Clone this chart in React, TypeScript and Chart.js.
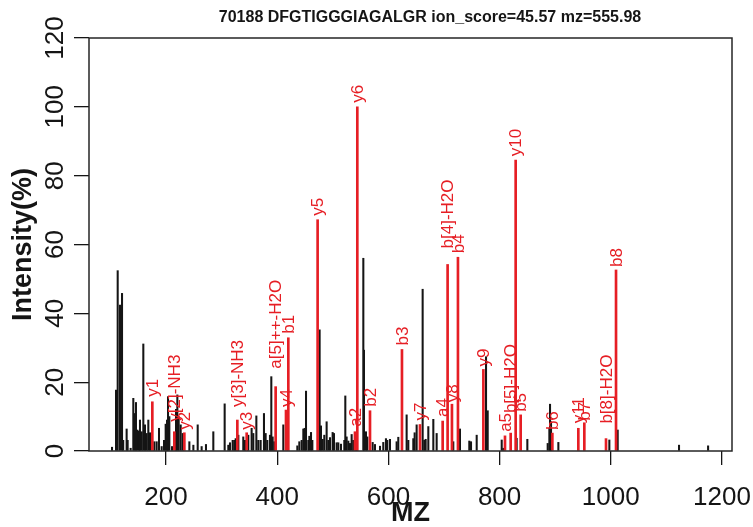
import React, { useEffect, useRef } from 'react';
import { Chart, registerables } from 'chart.js';

Chart.register(...registerables);

const TITLE = '70188 DFGTIGGGIAGALGR ion_score=45.57 mz=555.98';
const X_TICKS = [200, 400, 600, 800, 1000, 1200];
const Y_TICKS = [0, 20, 40, 60, 80, 100, 120];

// unannotated peaks (black)
const blackMz = [
  102.9, 110.1, 113.1, 117.3, 120.9, 123, 129.2, 131, 136.4, 141.2, 143.6, 146, 148.4, 151.4, 153.2,
  156.2, 159.2, 162.2, 165.2, 168.2, 171.2, 179, 183.2, 187.4, 192.2, 196.4, 199.4, 201.8, 203.6, 206,
  210.8, 218, 220.4, 222.8, 226.4, 230, 242, 249.2, 257, 264.1, 271.9, 285.1, 305.5, 312.1, 315.1,
  319.9, 322.9, 325.3, 330.1, 339, 342, 348, 354, 357, 362.5, 366, 370.2, 376.2, 379.2, 382.2, 387,
  389.4, 391.8, 394.8, 411, 436.2, 439.8, 444, 447, 449.4, 451.8, 456, 457.8, 460.8, 463.2, 476.3,
  478.7, 481.7, 484.7, 488.9, 491.9, 494.9, 499.7, 502.1, 506.9, 509.9, 514.7, 520.7, 522.5, 524.9,
  527.9, 530.9, 533.9, 536.9, 542.3, 554.9, 556.1, 559.7, 562.1, 571.7, 575.9, 584.9, 590.8, 595.6,
  598, 602.8, 614.8, 617.8, 632.8, 635.8, 644.8, 647.2, 650.8, 661.6, 664.6, 667, 671.8, 680.8,
  686.8, 716.7, 728.7, 745.5, 748.6, 758.8, 775.6, 778.6, 803.8, 806.8, 830.7, 849.9, 886.5, 889.5,
  890.7, 892.5, 905.7, 997.4, 1012.4, 1122.7, 1175,
];
const blackInt = [
  1.1, 17.7, 52.4, 42.4, 45.8, 3.1, 6.4, 3.1, 0.8, 15.3, 10.9, 14.1, 6.1, 5.8, 9.0,
  5.6, 31.1, 7.6, 5.1, 9.0, 5.3, 2.7, 2.7, 6.6, 1.3, 3.1, 7.8, 9.0, 15.8, 10.0,
  1.3, 12.1, 16.3, 10.0, 7.6, 5.1, 2.7, 1.7, 7.6, 1.3, 1.9, 5.6, 13.7, 1.7, 2.4,
  3.1, 3.1, 3.6, 4.6, 4.1, 3.1, 4.6, 6.6, 5.1, 10.2, 3.1, 3.1, 10.9, 5.1, 3.1, 4.6,
  21.6, 4.1, 2.7, 7.6, 1.5, 2.7, 3.1, 6.4, 6.6, 17.4, 3.1, 4.3, 5.4, 3.1, 35.2,
  7.3, 3.4, 4.6, 8.5, 3.1, 3.9, 5.4, 5.1, 2.4, 2.4, 2.0, 3.1, 16.0, 4.1,
  2.9, 2.2, 4.8, 3.1, 2.7, 56.0, 29.3, 5.6, 4.1, 2.5, 1.9, 1.4, 2.5, 3.6,
  3.1, 3.4, 2.7, 4.0, 10.5, 3.1, 3.6, 5.3, 7.6, 47.0, 3.1, 3.4, 7.1, 9.2,
  5.1, 2.7, 6.4, 2.9, 2.7, 4.6, 27.4, 11.7, 3.2, 0.8, 3.7, 3.4, 2.2, 6.6,
  13.6, 8.5, 2.5, 3.2, 6.1, 1.7, 1.5,
];

// annotated fragment ions (red)
const ionMz = [
  175.4, 215, 233, 328.3, 345.1, 397.2, 415.8, 420, 472.7, 539.9, 544.1, 566.9, 624.4, 656.8,
  697.6, 706.5, 714.3, 725.1, 770.8, 809.7, 819.9, 828.9, 837.9, 894.9, 941.6, 952.4, 991.4, 1009.4,
];
const ionInt = [
  14.3, 5.6, 5.3, 9.0, 5.3, 18.7, 11.9, 32.9, 67.2, 5.6, 100, 11.7, 29.5, 7.7,
  8.7, 54.2, 13.6, 56.3, 23.7, 4.4, 5.2, 84.5, 10.5, 5.2, 6.6, 8.2, 3.6, 52.6,
];
const ionLabels = [
  'y1', 'y[2]-NH3', 'y2', 'y[3]-NH3', 'y3', 'a[5]++-H2O', 'y4', 'b1', 'y5', 'a2', 'y6', 'b2', 'b3', 'y7',
  'a4', 'b[4]-H2O', 'y8', 'b4', 'y9', 'a5', 'b[5]-H2O', 'y10', 'b5', 'b6', 'y11', 'b7', 'b[8]-H2O', 'b8',
];
// gap (px) between each peak top and the start of its label, as seen in the reference
const labelGap = [
  5, 10, 3, 13, 3, 18, 3, 4, 4, 5, 4, 4, 4, 4,
  4, 16, 2, 4, 3, 4, 20, 4, 3, 3, 5, 2, 15, 3,
];

const X_MIN = 61.5;
const X_MAX = 1218;
const Y_MIN = 0;
const Y_MAX = 120;

const RED = 'rgb(230,30,36)';
const INK = '#151515';
const FONT = '"Liberation Sans", Arial, Helvetica, sans-serif';

const overlay = {
  id: 'overlay',
  afterDatasetsDraw(chart: any) {
    const { ctx, chartArea: a, scales } = chart;
    const x = scales.x;
    const y = scales.y;
    ctx.save();
    // plot box
    ctx.strokeStyle = '#262626';
    ctx.lineWidth = 1.5;
    ctx.strokeRect(a.left, a.top, a.right - a.left, a.bottom - a.top);

    // ion labels
    ctx.fillStyle = RED;
    ctx.font = `17px ${FONT}`;
    ctx.textAlign = 'left';
    ctx.textBaseline = 'middle';
    ionMz.forEach((m, i) => {
      const px = x.getPixelForValue(m);
      const py = y.getPixelForValue(ionInt[i]);
      ctx.save();
      ctx.translate(px + 1, py - labelGap[i]);
      ctx.rotate(-Math.PI / 2);
      ctx.fillText(ionLabels[i], 0, 0);
      ctx.restore();
    });

    // x tick labels
    ctx.fillStyle = INK;
    ctx.font = `26px ${FONT}`;
    ctx.textAlign = 'center';
    ctx.textBaseline = 'middle';
    X_TICKS.forEach((v) => {
      ctx.fillText(String(v), x.getPixelForValue(v), 498);
    });

    // y tick labels (rotated, R style)
    Y_TICKS.forEach((v) => {
      const py = y.getPixelForValue(v);
      ctx.save();
      ctx.translate(56, py);
      ctx.rotate(-Math.PI / 2);
      ctx.fillText(String(v), 0, 0);
      ctx.restore();
    });

    // axis titles
    ctx.font = `bold 27px ${FONT}`;
    ctx.save();
    ctx.translate(24, (a.top + a.bottom) / 2);
    ctx.rotate(-Math.PI / 2);
    ctx.fillText('Intensity(%)', 0, 0);
    ctx.restore();
    ctx.fillText('MZ', (a.left + a.right) / 2, 514);

    // main title
    ctx.font = `bold 16px ${FONT}`;
    ctx.fillText(TITLE, 430, 18);
    ctx.restore();
  },
};

export default function App() {
  const ref = useRef<HTMLCanvasElement | null>(null);
  useEffect(() => {
    if (!ref.current) return;
    const chart = new Chart(ref.current, {
      type: 'bar',
      data: {
        datasets: [
          {
            label: 'ions',
            data: ionMz.map((m, i) => ({ x: m, y: ionInt[i] })),
            backgroundColor: RED,
            barThickness: 2,
            borderWidth: 0,
            grouped: false,
            order: 0,
          } as any,
          {
            label: 'peaks',
            data: blackMz.map((m, i) => ({ x: m, y: blackInt[i] })),
            backgroundColor: INK,
            barThickness: 1.4,
            borderWidth: 0,
            grouped: false,
            order: 1,
          } as any,
        ],
      },
      options: {
        animation: false,
        responsive: false,
        devicePixelRatio: 1,
        layout: { padding: { left: 0, right: 21, top: 38, bottom: 0 } },
        plugins: {
          legend: { display: false },
          title: { display: false },
          tooltip: { enabled: false },
        },
        scales: {
          x: {
            type: 'linear',
            min: X_MIN,
            max: X_MAX,
            offset: false,
            afterBuildTicks: (s: any) => {
              s.ticks = X_TICKS.map((v) => ({ value: v }));
            },
            afterFit: (s: any) => {
              s.height = 76;
            },
            grid: {
              display: true,
              offset: false,
              drawOnChartArea: false,
              drawTicks: true,
              tickLength: 14,
              color: INK,
              lineWidth: 1.3,
            },
            border: { display: false },
            ticks: { display: false },
          },
          y: {
            type: 'linear',
            min: Y_MIN,
            max: Y_MAX,
            afterBuildTicks: (s: any) => {
              s.ticks = Y_TICKS.map((v) => ({ value: v }));
            },
            afterFit: (s: any) => {
              s.width = 89;
            },
            grid: {
              display: true,
              offset: false,
              drawOnChartArea: false,
              drawTicks: true,
              tickLength: 15,
              color: INK,
              lineWidth: 1.3,
            },
            border: { display: false },
            ticks: { display: false },
          },
        },
      },
      plugins: [overlay],
    });
    return () => chart.destroy();
  }, []);
  return (
    <div style={{ position: 'fixed', left: 0, top: 0, width: 753, height: 527, background: '#fff' }}>
      <canvas ref={ref} width={753} height={527} style={{ display: 'block', width: 753, height: 527 }} />
    </div>
  );
}
